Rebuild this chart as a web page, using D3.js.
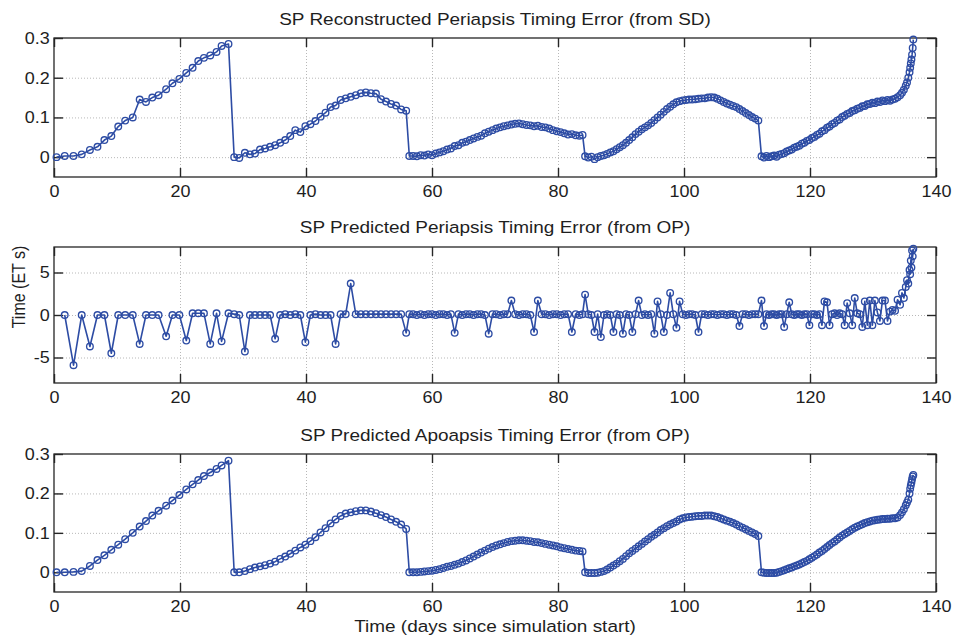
<!DOCTYPE html>
<html><head><meta charset="utf-8">
<script src="https://cdn.jsdelivr.net/npm/d3@7"></script>
<style>
body{margin:0;background:#fff;}
svg{display:block;font-family:"Liberation Sans",Arial,Helvetica,sans-serif;}
</style></head><body>
<svg id="chart" width="956" height="637"></svg>
<script>
// ---------------- data ----------------
const days = [
  0.4, 1.7, 3.1, 4.4, 5.7, 6.9, 8.0, 9.1, 10.2, 11.3, 12.5, 13.6, 14.6, 15.6, 16.6, 17.8, 18.8, 19.9, 21.0, 22.0, 22.9, 23.8, 24.8, 25.8, 26.6, 27.7,
  28.6, 29.4, 30.3, 31.1, 31.9, 32.7, 33.5, 34.3, 35.1, 35.9, 36.7, 37.5, 38.3, 39.1, 39.9, 40.7, 41.5, 42.3, 43.1, 43.9, 44.7, 45.5, 46.3, 47.1, 47.9, 48.7, 49.5, 50.3, 51.1, 51.9, 52.7, 53.5, 54.3, 55.1, 55.9,
  56.4, 57.0, 57.6, 58.2, 58.8, 59.4, 60.0, 60.6, 61.2, 61.8, 62.4, 63.0, 63.6, 64.2, 64.8, 65.4, 66.0, 66.6, 67.2, 67.8, 68.4, 69.0, 69.6, 70.2, 70.8, 71.4, 72.0, 72.6, 73.2, 73.8, 74.4, 75.0, 75.6, 76.2, 76.8, 77.4, 78.0, 78.6, 79.2, 79.8, 80.4, 81.0, 81.6, 82.2, 82.8, 83.4, 83.9,
  84.3, 84.8, 85.3, 85.8, 86.3, 86.8, 87.3, 87.8, 88.3, 88.8, 89.3, 89.8, 90.3, 90.8, 91.3, 91.8, 92.3, 92.8, 93.3, 93.8, 94.3, 94.8, 95.3, 95.8, 96.3, 96.8, 97.3, 97.8, 98.3, 98.8, 99.3, 99.8, 100.3, 100.8, 101.3, 101.8, 102.3, 102.8, 103.3, 103.8, 104.3, 104.8, 105.3, 105.8, 106.3, 106.8, 107.3, 107.8, 108.3, 108.8, 109.3, 109.8, 110.3, 110.8, 111.3, 111.8,
  112.3, 112.7, 113.1, 113.5, 113.9, 114.3, 114.7, 115.1, 115.5, 115.9, 116.3, 116.7, 117.1, 117.5, 117.9, 118.3, 118.7, 119.1, 119.5, 119.9, 120.3, 120.7, 121.1, 121.5, 121.9, 122.3, 122.7, 123.1, 123.5, 123.9, 124.3, 124.7, 125.1, 125.5, 125.9, 126.3, 126.7, 127.1, 127.5, 127.9, 128.3, 128.7, 129.1, 129.5, 129.9, 130.3, 130.7, 131.1, 131.5, 131.9, 132.3, 132.7, 133.1,
  133.5, 133.9, 134.3, 134.6, 134.9, 135.2, 135.4, 135.6, 135.8, 135.9, 136.0, 136.1, 136.2, 136.3, 136.4
];

// SP Reconstructed Periapsis Timing Error (from SD)
const reconPeri = [
  0.000, 0.003, 0.003, 0.007, 0.018, 0.026, 0.043, 0.053, 0.077, 0.092, 0.100, 0.145, 0.139, 0.150, 0.156, 0.171, 0.186, 0.197, 0.212, 0.225, 0.242, 0.250, 0.256, 0.265, 0.280, 0.285,
  0.000, -0.002, 0.011, 0.007, 0.009, 0.019, 0.022, 0.026, 0.030, 0.036, 0.043, 0.053, 0.068, 0.063, 0.078, 0.083, 0.091, 0.102, 0.112, 0.126, 0.130, 0.144, 0.148, 0.152, 0.156, 0.161, 0.163, 0.161, 0.160, 0.146, 0.140, 0.134, 0.130, 0.120, 0.117,
  0.003, 0.003, 0.002, 0.005, 0.004, 0.007, 0.005, 0.009, 0.012, 0.015, 0.019, 0.022, 0.028, 0.030, 0.036, 0.039, 0.043, 0.047, 0.051, 0.054, 0.060, 0.064, 0.068, 0.072, 0.075, 0.078, 0.080, 0.082, 0.084, 0.085, 0.083, 0.081, 0.080, 0.078, 0.079, 0.076, 0.075, 0.072, 0.068, 0.065, 0.063, 0.060, 0.057, 0.058, 0.055, 0.054, 0.056,
  0.002, -0.001, 0.001, -0.005, 0.000, 0.003, 0.005, 0.008, 0.012, 0.015, 0.020, 0.025, 0.030, 0.036, 0.043, 0.050, 0.058, 0.064, 0.070, 0.075, 0.080, 0.086, 0.093, 0.100, 0.107, 0.114, 0.121, 0.127, 0.133, 0.138, 0.141, 0.143, 0.144, 0.145, 0.145, 0.146, 0.147, 0.148, 0.148, 0.150, 0.151, 0.150, 0.147, 0.143, 0.139, 0.135, 0.132, 0.129, 0.126, 0.121, 0.116, 0.111, 0.106, 0.101, 0.097, 0.092,
  0.002, -0.001, 0.003, 0.000, 0.002, 0.004, 0.001, 0.006, 0.008, 0.010, 0.014, 0.017, 0.019, 0.024, 0.026, 0.029, 0.034, 0.036, 0.041, 0.043, 0.048, 0.051, 0.056, 0.059, 0.065, 0.068, 0.074, 0.077, 0.083, 0.086, 0.092, 0.095, 0.101, 0.104, 0.109, 0.111, 0.116, 0.118, 0.122, 0.124, 0.128, 0.129, 0.133, 0.134, 0.137, 0.136, 0.140, 0.139, 0.143, 0.141, 0.144, 0.142, 0.145,
  0.147, 0.151, 0.156, 0.162, 0.170, 0.180, 0.188, 0.200, 0.214, 0.225, 0.236, 0.246, 0.258, 0.275, 0.296
];

// SP Predicted Periapsis Timing Error (from OP)
const predPeri = [
  null, 0, -5.9, 0, -3.7, 0, 0, -4.5, 0, 0, 0, -3.4, 0, 0, 0, -2.5, 0, 0, -3.0, 0.2, 0.2, 0.2, -3.4, 0.2, -3.1, 0.2,
  0.1, 0, -4.3, 0, 0, 0, 0, 0, -2.8, 0, 0.1, 0, 0.1, 0, -3.2, 0, 0.1, 0, 0, 0, -3.4, 0.1, 0.1, 3.7, 0.1, 0.1, 0.1, 0.1, 0.1, 0.1, 0.1, 0.1, 0.1, 0.1, -2.1,
  0.1, 0.1, 0, 0.1, 0, 0.1, 0.1, 0, 0.1, 0.1, 0, 0.1, -2.1, 0.1, 0, 0.1, 0.1, 0, 0.1, 0.1, 0, -2.2, 0.1, 0.1, 0, 0.1, 0.1, 1.7, 0.1, 0, 0.1, 0.1, 0, -2.0, 1.7, 0.1, 0.1, 0, 0.1, 0.1, 0, 0.1, 0.1, -2.0, 0.1, 0, 0.1,
  2.4, 0.1, 0, -2.0, 0.1, -2.6, 0, 0.1, 0, -2.0, 0.1, 0, -2.2, 0.1, 0, -2.0, 0.1, 1.7, 0, 0.1, 0, 0.1, -2.2, 1.6, 0.1, -2.0, 0, 2.6, 0.1, -1.5, 1.6, 0.1, 0, 0.1, 0.1, 0, -2.0, 0.1, 0.1, 0, 0.1, 0.1, 0, 0.1, 0.1, 0, 0.1, 0.1, 0, -1.3, 0.1, 0.1, 0, 0.1, 0.1, 0.1,
  1.7, -1.3, 0.1, 0, 0.1, 0.1, 0, 0.1, 0.1, -1.4, 0.1, 1.5, 0.1, 0, 0.1, 0.1, 0, 0.1, 0.1, -1.2, 0.1, 0.1, 0, 0.1, -1.2, 1.6, 1.5, -1.2, 0.1, 0.2, 0, 0.2, 0.1, -1.2, 1.4, 0.2, -1.2, 2.0, 0.2, 0.1, -1.4, 1.6, -1.2, 1.7, -1.2, 1.7, 0.3, -0.7, 1.7, 1.7, -0.7, 0.4, 0.6,
  0.5, 1.8, 1.2, 2.6, 2.0, 3.3, 4.1, 3.7, 5.3, 4.8, 6.4, 5.6, 7.6, 6.9, 7.8
];

// SP Predicted Apoapsis Timing Error (from OP)
const predApo = [
  0.000, 0.000, 0.001, 0.003, 0.016, 0.031, 0.043, 0.057, 0.070, 0.084, 0.100, 0.116, 0.130, 0.144, 0.156, 0.169, 0.182, 0.196, 0.210, 0.223, 0.234, 0.244, 0.253, 0.262, 0.271, 0.283,
  0.000, 0.000, 0.003, 0.008, 0.012, 0.015, 0.018, 0.022, 0.027, 0.034, 0.040, 0.047, 0.055, 0.063, 0.070, 0.079, 0.089, 0.101, 0.112, 0.124, 0.134, 0.143, 0.149, 0.152, 0.155, 0.157, 0.157, 0.154, 0.150, 0.145, 0.140, 0.134, 0.128, 0.121, 0.110,
  0.000, 0.000, 0.000, 0.001, 0.002, 0.003, 0.004, 0.006, 0.008, 0.011, 0.014, 0.016, 0.019, 0.022, 0.026, 0.030, 0.035, 0.040, 0.045, 0.050, 0.055, 0.060, 0.064, 0.068, 0.071, 0.074, 0.077, 0.079, 0.080, 0.081, 0.081, 0.080, 0.079, 0.077, 0.076, 0.074, 0.072, 0.070, 0.068, 0.066, 0.063, 0.061, 0.059, 0.057, 0.055, 0.054, 0.053,
  0.000, -0.002, -0.002, -0.002, -0.001, 0.001, 0.003, 0.007, 0.012, 0.017, 0.022, 0.028, 0.034, 0.041, 0.048, 0.054, 0.060, 0.066, 0.072, 0.078, 0.084, 0.090, 0.095, 0.101, 0.107, 0.112, 0.117, 0.121, 0.125, 0.129, 0.134, 0.137, 0.139, 0.140, 0.141, 0.142, 0.143, 0.143, 0.144, 0.144, 0.144, 0.142, 0.140, 0.137, 0.134, 0.131, 0.128, 0.125, 0.121, 0.117, 0.113, 0.109, 0.105, 0.101, 0.097, 0.092,
  0.000, -0.001, -0.002, -0.002, -0.002, -0.002, -0.001, 0.001, 0.003, 0.005, 0.008, 0.010, 0.012, 0.015, 0.017, 0.020, 0.023, 0.026, 0.029, 0.033, 0.037, 0.041, 0.045, 0.050, 0.054, 0.059, 0.064, 0.069, 0.074, 0.078, 0.083, 0.088, 0.093, 0.097, 0.101, 0.105, 0.109, 0.113, 0.116, 0.119, 0.122, 0.125, 0.127, 0.129, 0.131, 0.132, 0.133, 0.134, 0.135, 0.135, 0.136, 0.136, 0.137,
  0.137, 0.139, 0.145, 0.152, 0.160, 0.170, 0.177, 0.184, 0.200, 0.212, 0.220, 0.228, 0.236, 0.243, 0.247
];

const xTicks = [0, 20, 40, 60, 80, 100, 120, 140];
const yTicksFrac = [0, 0.1, 0.2, 0.3];
const yTicksSec = [-5, 0, 5];
const xTickLabels = ["0", "20", "40", "60", "80", "100", "120", "140"];
const yTickLabelsFrac = ["0", "0.1", "0.2", "0.3"];
const yTickLabelsSec = ["-5", "0", "5"];
const titles = [
  "SP Reconstructed Periapsis Timing Error (from SD)",
  "SP Predicted Periapsis Timing Error (from OP)",
  "SP Predicted Apoapsis Timing Error (from OP)"
];
const xLabel = "Time (days since simulation start)";
const yLabel = "Time (ET s)";

// ---------------- drawing ----------------
const svg = d3.select("#chart");
const LINE = "#2d4ca4";
const TXT = "#1e1e1e";
const left = 54, right = 936;
const x = d3.scaleLinear().domain([0, 140]).range([left, right]);

const panels = [
  {title: titles[0], values: reconPeri, domain: [-0.05, 0.3], ticks: yTicksFrac, labels: yTickLabelsFrac, top: 38, bottom: 177, titleY: 25},
  {title: titles[1], values: predPeri, domain: [-8, 8], ticks: yTicksSec, labels: yTickLabelsSec, top: 247, bottom: 383, titleY: 233},
  {title: titles[2], values: predApo, domain: [-0.05, 0.3], ticks: yTicksFrac, labels: yTickLabelsFrac, top: 454, bottom: 592, titleY: 441}
];

const TICK_SX = 1.09, TEXT_SX = 1.15;

panels.forEach(p => {
  const y = d3.scaleLinear().domain(p.domain).range([p.bottom, p.top]);
  const h = p.bottom - p.top, w = right - left;
  const g = svg.append("g");

  // grid
  const gx = g.append("g").attr("transform", `translate(0,${p.bottom})`)
    .call(d3.axisBottom(x).tickValues(xTicks.filter(v => v > 0 && v < 140)).tickSize(-h).tickFormat(""));
  const gy = g.append("g").attr("transform", `translate(${left},0)`)
    .call(d3.axisLeft(y).tickValues(p.ticks.filter(v => v < p.domain[1])).tickSize(-w).tickFormat(""));
  [gx, gy].forEach(s => {
    s.select(".domain").remove();
    s.selectAll("line").attr("stroke", "#b8b8b8").attr("stroke-width", 1).attr("stroke-dasharray", "1,2");
  });

  // box
  g.append("rect").attr("x", left).attr("y", p.top).attr("width", w).attr("height", h)
    .attr("fill", "none").attr("stroke", "#262626").attr("stroke-width", 1.3);

  // axes (inward ticks on all four sides)
  const ax = g.append("g").attr("transform", `translate(0,${p.bottom})`)
    .call(d3.axisBottom(x).tickValues(xTicks).tickSize(-9).tickPadding(8).tickFormat((d, i) => xTickLabels[i]));
  const axT = g.append("g").attr("transform", `translate(0,${p.top})`)
    .call(d3.axisTop(x).tickValues(xTicks).tickSize(-9).tickFormat(""));
  const ay = g.append("g").attr("transform", `translate(${left},0)`)
    .call(d3.axisLeft(y).tickValues(p.ticks).tickSize(-9).tickPadding(4).tickFormat((d, i) => p.labels[i]));
  const ayR = g.append("g").attr("transform", `translate(${right},0)`)
    .call(d3.axisRight(y).tickValues(p.ticks).tickSize(-9).tickFormat(""));
  [ax, axT, ay, ayR].forEach(s => {
    s.select(".domain").remove();
    s.selectAll("line").attr("stroke", "#262626").attr("stroke-width", 1.4);
    s.selectAll("text").attr("fill", TXT).attr("font-size", 16.5)
      .attr("font-family", "'Liberation Sans', Arial, sans-serif")
      .attr("transform", `scale(${TICK_SX},1)`);
  });

  // data
  const n = Math.min(days.length, p.values.length);
  const pts = d3.range(n).map(i => ({d: days[i], v: p.values[i]}));
  const line = d3.line().defined(q => q.v != null).x(q => x(q.d)).y(q => y(q.v));
  g.append("path").datum(pts).attr("d", line).attr("fill", "none")
    .attr("stroke", LINE).attr("stroke-width", 1.6).attr("stroke-linejoin", "round");
  g.append("g").selectAll("circle").data(pts.filter(q => q.v != null)).join("circle")
    .attr("cx", q => x(q.d)).attr("cy", q => y(q.v)).attr("r", 3.3)
    .attr("fill", "none").attr("stroke", LINE).attr("stroke-width", 1.35);

  // title
  svg.append("text").attr("transform", `translate(${(left + right) / 2},${p.titleY}) scale(${TEXT_SX},1)`)
    .attr("text-anchor", "middle").attr("font-size", 16.5).attr("fill", TXT).text(p.title);
});

svg.append("text").attr("transform", `translate(${(left + right) / 2},632) scale(${TEXT_SX},1)`)
  .attr("text-anchor", "middle").attr("font-size", 16.5).attr("fill", TXT).text(xLabel);
svg.append("text").attr("transform", `translate(25,287) scale(${TEXT_SX},1) rotate(-90)`)
  .attr("text-anchor", "middle").attr("font-size", 16).attr("fill", TXT).text(yLabel);
</script>
</body></html>
